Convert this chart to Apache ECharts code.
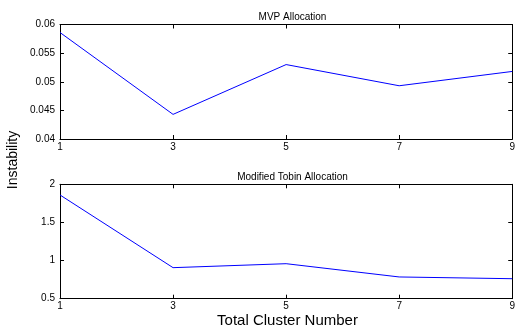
<!DOCTYPE html>
<html><head><meta charset="utf-8">
<script src="https://cdn.jsdelivr.net/npm/echarts@6/dist/echarts.min.js"></script>
<style>html,body{margin:0;padding:0;background:#fff}#c{width:518px;height:334px}</style>
</head><body><div id="c"></div>
<script>
const clusters = [1, 3, 5, 7, 9];
const mvpValues = [0.0586, 0.0443, 0.0530, 0.0493, 0.0518];
const tobinValues = [1.86, 0.907, 0.959, 0.785, 0.762];
const xTicks = [1, 3, 5, 7, 9];
const mvpTicks = [0.04, 0.045, 0.05, 0.055, 0.06];
const tobinTicks = [0.5, 1, 1.5, 2];

const FONT = 'Liberation Sans';
const chart = echarts.init(document.getElementById('c'), null, {renderer: 'canvas'});
const L = 60, W = 455;
const grids = [{left: L, top: 24.5, width: W, height: 114.5}, {left: L, top: 184.3, width: W, height: 114.4}];
const axLine = {show: true, lineStyle: {color: '#000', width: 1}};
function xAxes(gi) {
  return [
    {type: 'value', gridIndex: gi, position: 'bottom', min: xTicks[0], max: xTicks[xTicks.length-1], interval: 2,
     axisLine: axLine, axisTick: {inside: true, length: 4, lineStyle: {color: '#000'}},
     axisLabel: {color: '#000', fontFamily: FONT, fontSize: 10, margin: 3}, splitLine: {show: false}},
    {type: 'value', gridIndex: gi, position: 'top', min: xTicks[0], max: xTicks[xTicks.length-1], interval: 2,
     axisLine: axLine, axisTick: {inside: true, length: 4, lineStyle: {color: '#000'}},
     axisLabel: {show: false}, splitLine: {show: false}}
  ];
}
function yAxes(gi, ticks) {
  const min = ticks[0], max = ticks[ticks.length-1], interval = ticks[1]-ticks[0];
  const fmt = v => { for (const t of ticks) if (Math.abs(t - v) < 1e-9) return String(t); return ''; };
  return [
    {type: 'value', gridIndex: gi, position: 'left', min, max, interval,
     axisLine: axLine, axisTick: {inside: true, length: 4, lineStyle: {color: '#000'}},
     axisLabel: {color: '#000', fontFamily: FONT, fontSize: 10, margin: 5, formatter: fmt}, splitLine: {show: false}},
    {type: 'value', gridIndex: gi, position: 'right', min, max, interval,
     axisLine: axLine, axisTick: {inside: true, length: 4, lineStyle: {color: '#000'}},
     axisLabel: {show: false}, splitLine: {show: false}}
  ];
}
chart.setOption({
  animation: false,
  backgroundColor: '#fff',
  title: [
    {text: 'MVP Allocation', left: L + W/2, top: 7, textAlign: 'center', textStyle: {fontFamily: FONT, fontSize: 10, fontWeight: 'normal', color: '#000'}},
    {text: 'Modified Tobin Allocation', left: L + W/2, top: 167, textAlign: 'center', textStyle: {fontFamily: FONT, fontSize: 10, fontWeight: 'normal', color: '#000'}}
  ],
  grid: grids,
  xAxis: [...xAxes(0), ...xAxes(1)],
  yAxis: [...yAxes(0, mvpTicks), ...yAxes(1, tobinTicks)],
  graphic: [
    {type: 'text', x: 13, y: 160, rotation: Math.PI/2, style: {text: 'Instability', font: '14px "Liberation Sans"', fill: '#000', textAlign: 'center', textVerticalAlign: 'middle'}},
    {type: 'text', x: L + W/2, y: 321, style: {text: 'Total Cluster Number', font: '15px "Liberation Sans"', fill: '#000', textAlign: 'center', textVerticalAlign: 'middle'}}
  ],
  series: [
    {type: 'line', xAxisIndex: 0, yAxisIndex: 0, data: clusters.map((c, i) => [c, mvpValues[i]]), symbol: 'none', lineStyle: {color: '#0000ff', width: 1}},
    {type: 'line', xAxisIndex: 2, yAxisIndex: 2, data: clusters.map((c, i) => [c, tobinValues[i]]), symbol: 'none', lineStyle: {color: '#0000ff', width: 1}}
  ]
});
</script></body></html>
